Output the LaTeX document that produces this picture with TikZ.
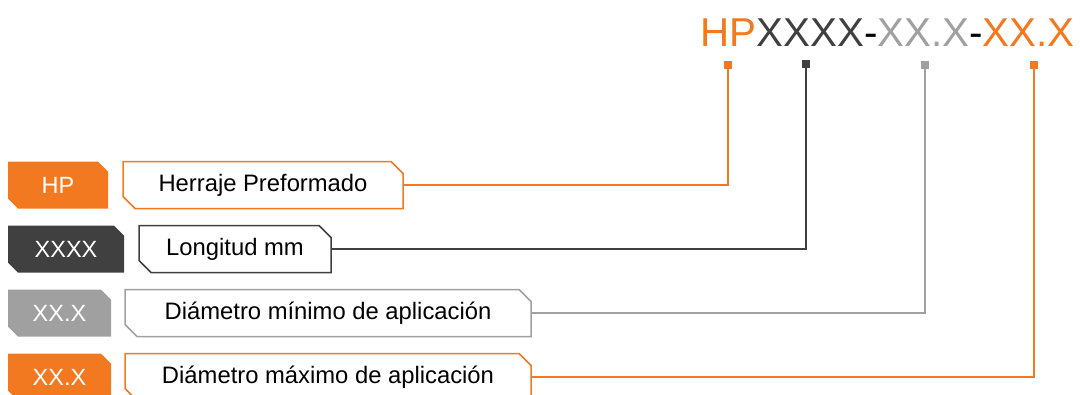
\documentclass[tikz,border=0pt]{standalone}
\usepackage{fontspec}
\setmainfont{Liberation Sans}
\usetikzlibrary{shapes.misc}
\definecolor{naranja}{RGB}{243,121,32}
\definecolor{oscuro}{RGB}{64,64,64}
\definecolor{claro}{RGB}{160,160,160}

\begin{document}
\begin{tikzpicture}[x=1pt,y=-1pt,
	badge/.style={shape=chamfered rectangle,chamfered rectangle corners={north east,south west},
		chamfered rectangle xsep=5pt,chamfered rectangle ysep=5pt,inner sep=0pt,
		minimum height=47pt,text=white,font=\fontsize{23.5}{28}\selectfont},
	caja/.style={shape=chamfered rectangle,chamfered rectangle corners={north east,south west},
		chamfered rectangle xsep=6pt,chamfered rectangle ysep=6pt,inner sep=0pt,
		minimum height=47pt,fill=white,line width=1.5pt,font=\fontsize{23.8}{28}\selectfont},
	marca/.style={shape=rectangle,inner sep=0pt,minimum size=8pt},
	enlace/.style={line width=1.6pt}]

	\useasboundingbox (0,0) rectangle (1080,394);
	\clip (0,0) rectangle (1080,394);

	\node[anchor=base east,font=\fontsize{40.3}{48}\selectfont,inner sep=0pt] (code) at (1075,46)
		{\textcolor{naranja}{HP}\textcolor{oscuro}{XXXX}-\textcolor{claro}{XX.X}-\textcolor{naranja}{XX.X}};

	\node[marca,fill=naranja] (shp)   at (728,65)  {};
	\node[marca,fill=oscuro]  (sxxxx) at (806,64)  {};
	\node[marca,fill=claro]   (smin)  at (925,65)  {};
	\node[marca,fill=naranja] (smax)  at (1034,65) {};

	\node[badge,fill=naranja,minimum width=100pt] (hp)   at (58,185)   {HP};
	\node[badge,fill=oscuro,minimum width=116pt]  (xxxx) at (66,249)   {XXXX};
	\node[badge,fill=claro,minimum width=103pt]   (dmin) at (59.5,313) {XX.X};
	\node[badge,fill=naranja,minimum width=103pt] (dmax) at (59.5,377) {XX.X};

	\node[caja,draw=naranja,minimum width=280pt] (lhp)  at (263,185) {Herraje Preformado};
	\node[caja,draw=oscuro,minimum width=192pt]  (llen) at (235,249) {Longitud mm};
	\node[caja,draw=claro,minimum width=406pt]   (lmin) at (328,313) {Diámetro mínimo de aplicación};
	\node[caja,draw=naranja,minimum width=406pt] (lmax) at (328,377) {Diámetro máximo de aplicación};

	\draw[enlace,naranja] (lhp.east)  -| (shp.south);
	\draw[enlace,oscuro]  (llen.east) -| (sxxxx.south);
	\draw[enlace,claro]   (lmin.east) -| (smin.south);
	\draw[enlace,naranja] (lmax.east) -| (smax.south);

\end{tikzpicture}
\end{document}
